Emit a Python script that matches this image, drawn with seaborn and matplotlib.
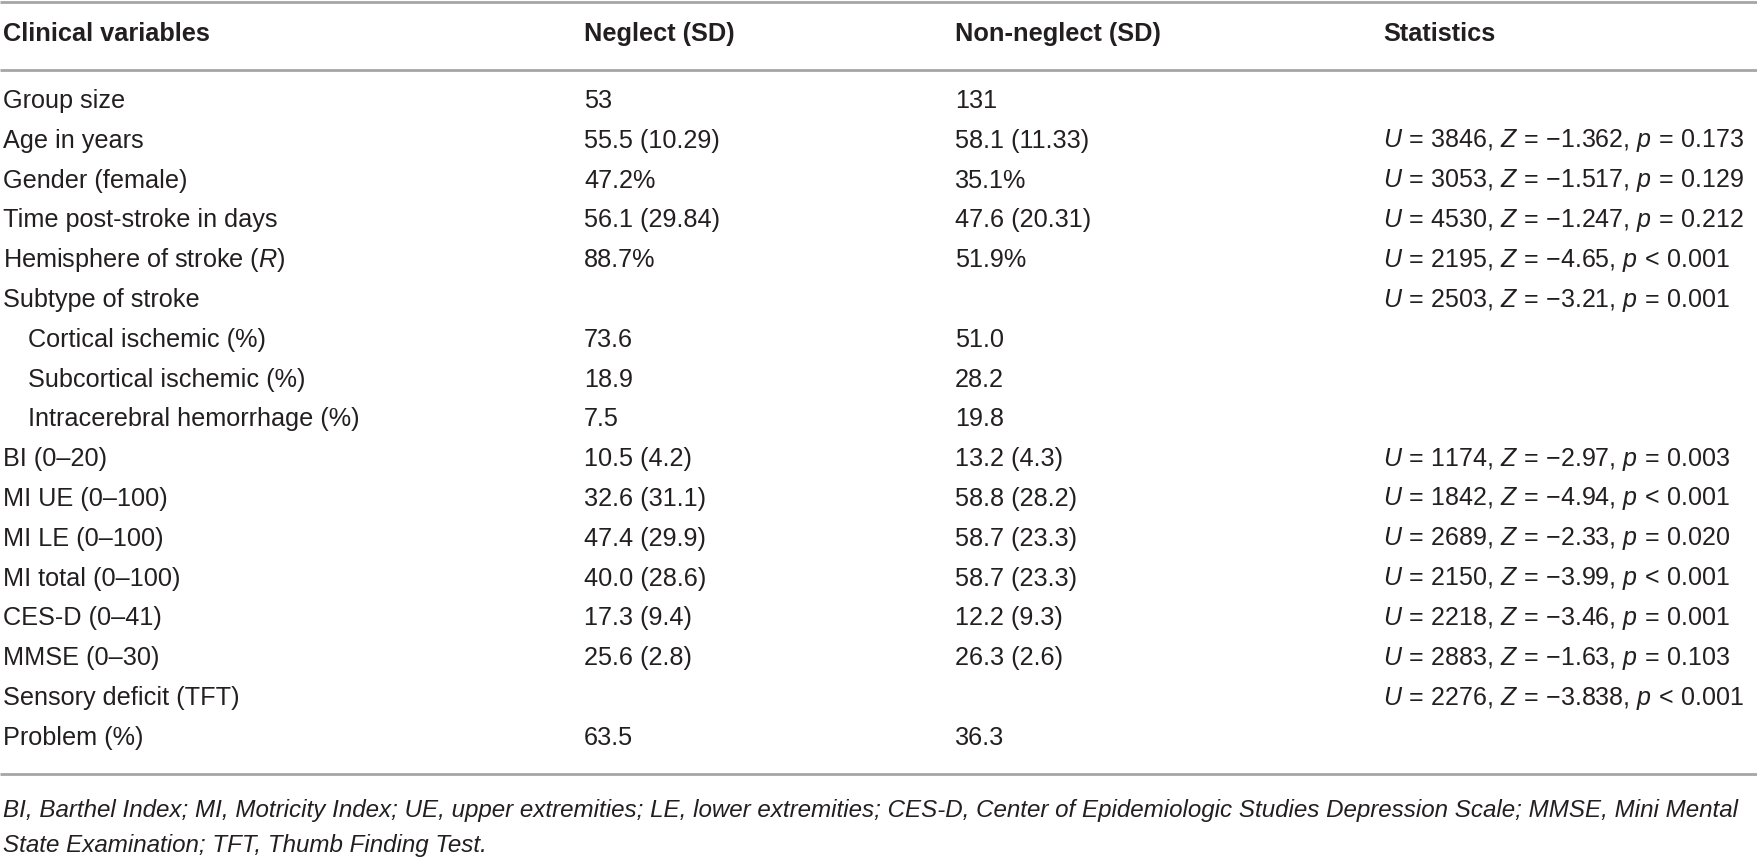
import matplotlib
matplotlib.use("Agg")
import matplotlib.pyplot as plt
import seaborn as sns

# table content
headers = ["Clinical variables", "Neglect (SD)", "Non-neglect (SD)", "Statistics"]

variables = [
    "Group size", "Age in years", "Gender (female)", "Time post-stroke in days",
    r"Hemisphere of stroke ($R$)", "Subtype of stroke",
    "Cortical ischemic (%)", "Subcortical ischemic (%)", "Intracerebral hemorrhage (%)",
    "BI (0–20)", "MI UE (0–100)", "MI LE (0–100)", "MI total (0–100)",
    "CES-D (0–41)", "MMSE (0–30)", "Sensory deficit (TFT)", "Problem (%)",
]
indented = [False] * 6 + [True] * 3 + [False] * 8

neglect = [
    "53", "55.5 (10.29)", "47.2%", "56.1 (29.84)", "88.7%", "",
    "73.6", "18.9", "7.5",
    "10.5 (4.2)", "32.6 (31.1)", "47.4 (29.9)", "40.0 (28.6)",
    "17.3 (9.4)", "25.6 (2.8)", "", "63.5",
]
non_neglect = [
    "131", "58.1 (11.33)", "35.1%", "47.6 (20.31)", "51.9%", "",
    "51.0", "28.2", "19.8",
    "13.2 (4.3)", "58.8 (28.2)", "58.7 (23.3)", "58.7 (23.3)",
    "12.2 (9.3)", "26.3 (2.6)", "", "36.3",
]
# (U, Z, comparison sign for p, p)
stats = [
    None, ("3846", "1.362", "=", "0.173"), ("3053", "1.517", "=", "0.129"),
    ("4530", "1.247", "=", "0.212"), ("2195", "4.65", "<", "0.001"),
    ("2503", "3.21", "=", "0.001"), None, None, None,
    ("1174", "2.97", "=", "0.003"), ("1842", "4.94", "<", "0.001"),
    ("2689", "2.33", "=", "0.020"), ("2150", "3.99", "<", "0.001"),
    ("2218", "3.46", "=", "0.001"), ("2883", "1.63", "=", "0.103"),
    ("2276", "3.838", "<", "0.001"), None,
]

footnote = [
    "BI, Barthel Index; MI, Motricity Index; UE, upper extremities; LE, lower extremities; "
    "CES-D, Center of Epidemiologic Studies Depression Scale; MMSE, Mini Mental",
    "State Examination; TFT, Thumb Finding Test.",
]

sns.set_theme(style="white")
plt.rcParams["font.family"] = ["Liberation Sans", "DejaVu Sans"]
plt.rcParams["mathtext.fontset"] = "custom"
plt.rcParams["mathtext.rm"] = "Liberation Sans"
plt.rcParams["mathtext.it"] = "Liberation Sans:italic"

W, H = 1757, 859
fig = plt.figure(figsize=(W / 100, H / 100), dpi=100)
ax = fig.add_axes([0, 0, 1, 1])
ax.set_xlim(0, W)
ax.set_ylim(H, 0)
ax.axis("off")

text_color = "#231f20"
line_color = "#a6a6a6"
fs = 18.2
col_x = [3, 584, 955, 1383]
row0, row_h = 101, 39.8


def stat_text(u, z, cmp, p):
    # math-italic letters, thin spaces round the relation signs
    rel = lambda c: r"\,{%s}\," % c
    return (r"$U%s%s$, $Z%s{-}%s$, $p%s%s$"
            % (rel("="), u, rel("="), z, rel(cmp), p))


for x, h in zip(col_x, headers):
    ax.text(x, 34, h, fontsize=18.3, fontweight="bold", color=text_color, va="center")

for i, name in enumerate(variables):
    y = row0 + i * row_h
    ax.text(col_x[0] + (25 if indented[i] else 0), y, name, fontsize=fs,
            color=text_color, va="center")
    ax.text(col_x[1], y, neglect[i], fontsize=fs, color=text_color, va="center")
    ax.text(col_x[2], y, non_neglect[i], fontsize=fs, color=text_color, va="center")
    if stats[i] is not None:
        ax.text(col_x[3], y, stat_text(*stats[i]), fontsize=18,
                color=text_color, va="center")

bottom = row0 + (len(variables) - 1) * row_h + 36
for y in [2, 70, bottom]:
    ax.plot([0, W], [y, y], color=line_color, lw=2, solid_capstyle="butt")

for j, line in enumerate(footnote):
    ax.text(col_x[0], bottom + 37 + j * 35, line, fontsize=17.4,
            style="italic", color=text_color, va="center")

fig.savefig("out.png", dpi=100, facecolor="white")
